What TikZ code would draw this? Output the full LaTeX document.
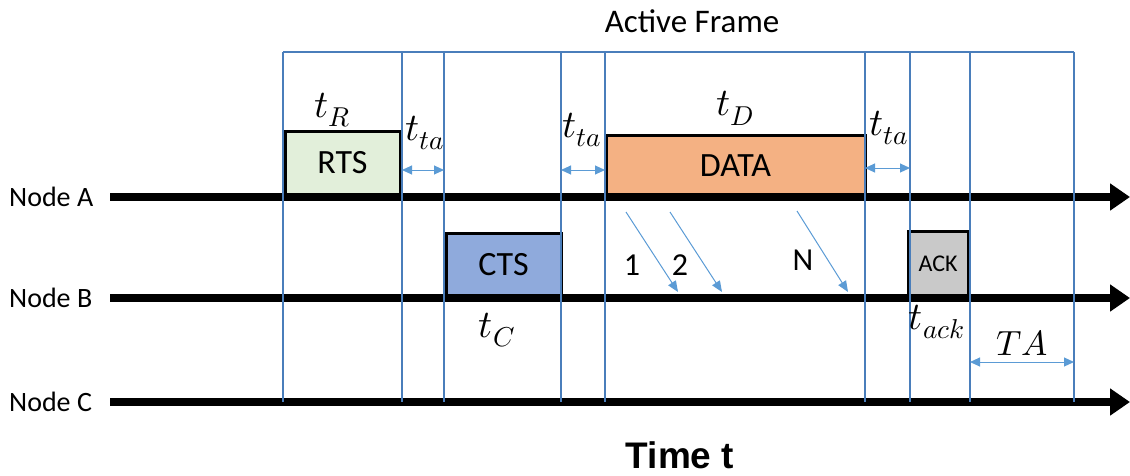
\documentclass[tikz,border=0pt]{standalone}
\usepackage{fontspec}
\usepackage{unicode-math}
\setmainfont{Carlito}
\newfontfamily\timefont{Liberation Sans}
\usetikzlibrary{arrows.meta}

\definecolor{gridblue}{HTML}{4A7EBB}
\definecolor{arrowblue}{HTML}{5B9BD5}
\definecolor{rtsfill}{HTML}{E2EFDA}
\definecolor{ctsfill}{HTML}{8FAADC}
\definecolor{datafill}{HTML}{F4B183}
\definecolor{ackfill}{HTML}{C9C9C9}

\tikzset{
  timeline/.style={line width=8pt, -{Triangle[length=20pt,width=26pt]}},
  frameline/.style={gridblue, line width=1.4pt},
  packet/.style={draw=black, line width=3pt, inner sep=0pt, font=\fontsize{34}{40}\selectfont},
  gap/.style={arrowblue, line width=1pt, {Triangle[length=10pt,width=9pt]}-{Triangle[length=10pt,width=9pt]}},
  hop/.style={arrowblue, line width=1pt, -{Triangle[length=11pt,width=9pt]}},
  nodelabel/.style={anchor=west, inner sep=0pt, font=\fontsize{28}{32}\selectfont},
  mathlabel/.style={inner sep=0pt, font=\fontsize{39}{44}\selectfont},
  count/.style={inner sep=0pt, font=\fontsize{32}{36}\selectfont},
}

\begin{document}
\begin{tikzpicture}[x=1pt, y=-1pt]
\useasboundingbox (0,0) rectangle (1130,475);

% station labels and their time axes
\node[nodelabel] (na) at (9,197) {Node A};
\node[nodelabel] (nb) at (9,298) {Node B};
\node[nodelabel] (nc) at (9,402) {Node C};
\coordinate (ea) at (1130,197);
\coordinate (eb) at (1130,298);
\coordinate (ec) at (1130,402);

% packets
\node[packet, fill=rtsfill, minimum width=115pt, minimum height=64pt] (rts) at (342.5,163) {RTS};
\node[packet, fill=datafill, minimum width=259pt, minimum height=62pt] (data) at (735.5,166) {DATA};
\node[packet, fill=ctsfill, minimum width=115pt, minimum height=64pt] (cts) at (503.5,265) {CTS};
\node[packet, fill=ackfill, minimum width=60pt, minimum height=66pt, font=\fontsize{24}{28}\selectfont] (ack) at (938,264) {ACK};

\draw[timeline] (110,197) -- (ea);
\draw[timeline] (110,298) -- (eb);
\draw[timeline] (110,402) -- (ec);

% active frame grid
\foreach \n/\x in {g1/283, g2/402, g3/444, g4/561, g5/605, g6/865, g7/910, g8/970, g9/1074} {
  \coordinate (\n top) at (\x,52);
  \coordinate (\n bot) at (\x,402);
  \draw[frameline] (\n top) -- (\n bot);
}
\draw[frameline] (g1top) -- (g9top);
\node[inner sep=0pt, font=\fontsize{33}{38}\selectfont] (frame) at (692,21) {Active Frame};

% turnaround gaps
\coordinate (ta1l) at (402,170); \coordinate (ta1r) at (444,170);
\coordinate (ta2l) at (561,170); \coordinate (ta2r) at (605,170);
\coordinate (ta3l) at (865,168); \coordinate (ta3r) at (910,168);
\coordinate (tal) at (970,362); \coordinate (tar) at (1074,362);
\draw[gap] (ta1l) -- (ta1r);
\draw[gap] (ta2l) -- (ta2r);
\draw[gap] (ta3l) -- (ta3r);
\draw[gap] (tal) -- (tar);

% durations
\node[mathlabel] (tr) at (332,110) {$t_R$};
\node[mathlabel] (tta1) at (425,133) {$t_{ta}$};
\node[mathlabel] (tta2) at (582,130) {$t_{ta}$};
\node[mathlabel] (tta3) at (889,128) {$t_{ta}$};
\node[mathlabel] (td) at (735,108) {$t_D$};
\node[mathlabel] (tc) at (497,330) {$t_C$};
\node[mathlabel] (tack) at (937,322) {$t_{ack}$};
\node[mathlabel, font=\fontsize{35}{40}\selectfont] (tta) at (1022,343) {$TA$};

% data fragments from A to B
\coordinate (f1s) at (626,212); \coordinate (f1e) at (678,292);
\coordinate (f2s) at (670,212); \coordinate (f2e) at (722,292);
\coordinate (fns) at (797,211); \coordinate (fne) at (848,292);
\draw[hop] (f1s) -- (f1e);
\draw[hop] (f2s) -- (f2e);
\draw[hop] (fns) -- (fne);
\node[count] (c1) at (632,265) {1};
\node[count] (c2) at (680,265) {2};
\node[count] (cn) at (803,260) {N};

\node[inner sep=0pt, font=\timefont\bfseries\fontsize{37}{42}\selectfont] (time) at (680,455) {Time t};
\end{tikzpicture}
\end{document}
